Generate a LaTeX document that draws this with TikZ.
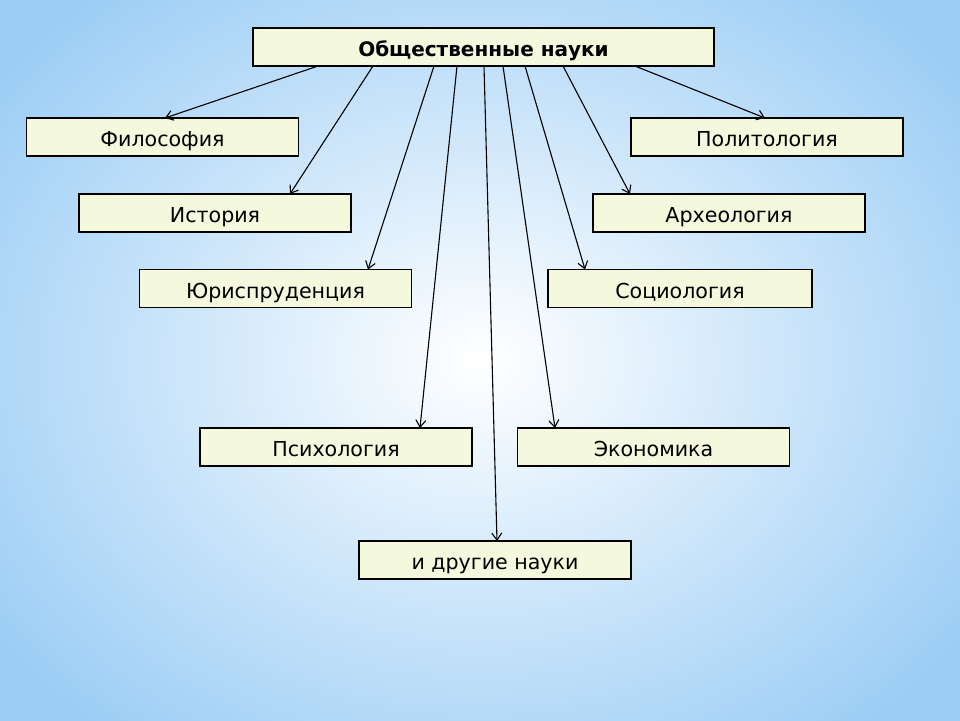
\documentclass[tikz,border=0pt]{standalone}
\usepackage{fontspec}
\setmainfont{DejaVu Sans}
\usepackage{tikz}
\usetikzlibrary{arrows.meta}
\definecolor{bgblue}{RGB}{155,205,245}
\definecolor{boxfill}{RGB}{244,248,221}

\begin{document}
\begin{tikzpicture}[x=0.5pt, y=-0.5pt,
  every node/.style={draw=black, line width=0.9pt, fill=boxfill, minimum width=136pt, minimum height=19pt, inner sep=0pt, outer sep=0pt, text height=9.5pt, text depth=0pt, font=\fontsize{10.3}{12}\selectfont},
  link/.style={-{Straight Barb[length=3.5pt, width=5pt]}, line width=0.55pt, black}]
\useasboundingbox (0,0) rectangle (960,720);
\fill[bgblue] (-20,-20) rectangle (980,740);
\shade[inner color=white, outer color=bgblue] (480,360) ellipse (600 and 480);

\node[minimum width=230.5pt, font=\fontsize{10}{12}\selectfont\bfseries] (soc) at (483.5,47) {Общественные науки};

\node (phil) at (162.5,137) {Философия};
\node (hist) at (215,213) {История};
\node (law) at (275.5,288.5) {Юриспруденция};
\node (pol) at (767,137) {Политология};
\node (arch) at (729,213) {Археология};
\node[minimum width=132pt] (socio) at (680,288.5) {Социология};
\node (psy) at (336,447) {Психология};
\node (econ) at (653.5,447) {Экономика};
\node (other) at (495,560) {и другие науки};

\draw[link] (soc.south -| 318,0) -- (phil.north -| 165,0);
\draw[link] (soc.south -| 373,0) -- (hist.north -| 290,0);
\draw[link] (soc.south -| 434,0) -- (law.north -| 368,0);
\draw[link] (soc.south -| 457,0) -- (psy.north -| 420,0);
\draw[link] (soc.south -| 484,0) -- (other.north -| 497,0);
\draw[link] (soc.south -| 503,0) -- (econ.north -| 555,0);
\draw[link] (soc.south -| 525,0) -- (socio.north -| 585,0);
\draw[link] (soc.south -| 563,0) -- (arch.north -| 630,0);
\draw[link] (soc.south -| 635,0) -- (pol.north -| 765,0);
\end{tikzpicture}
\end{document}
